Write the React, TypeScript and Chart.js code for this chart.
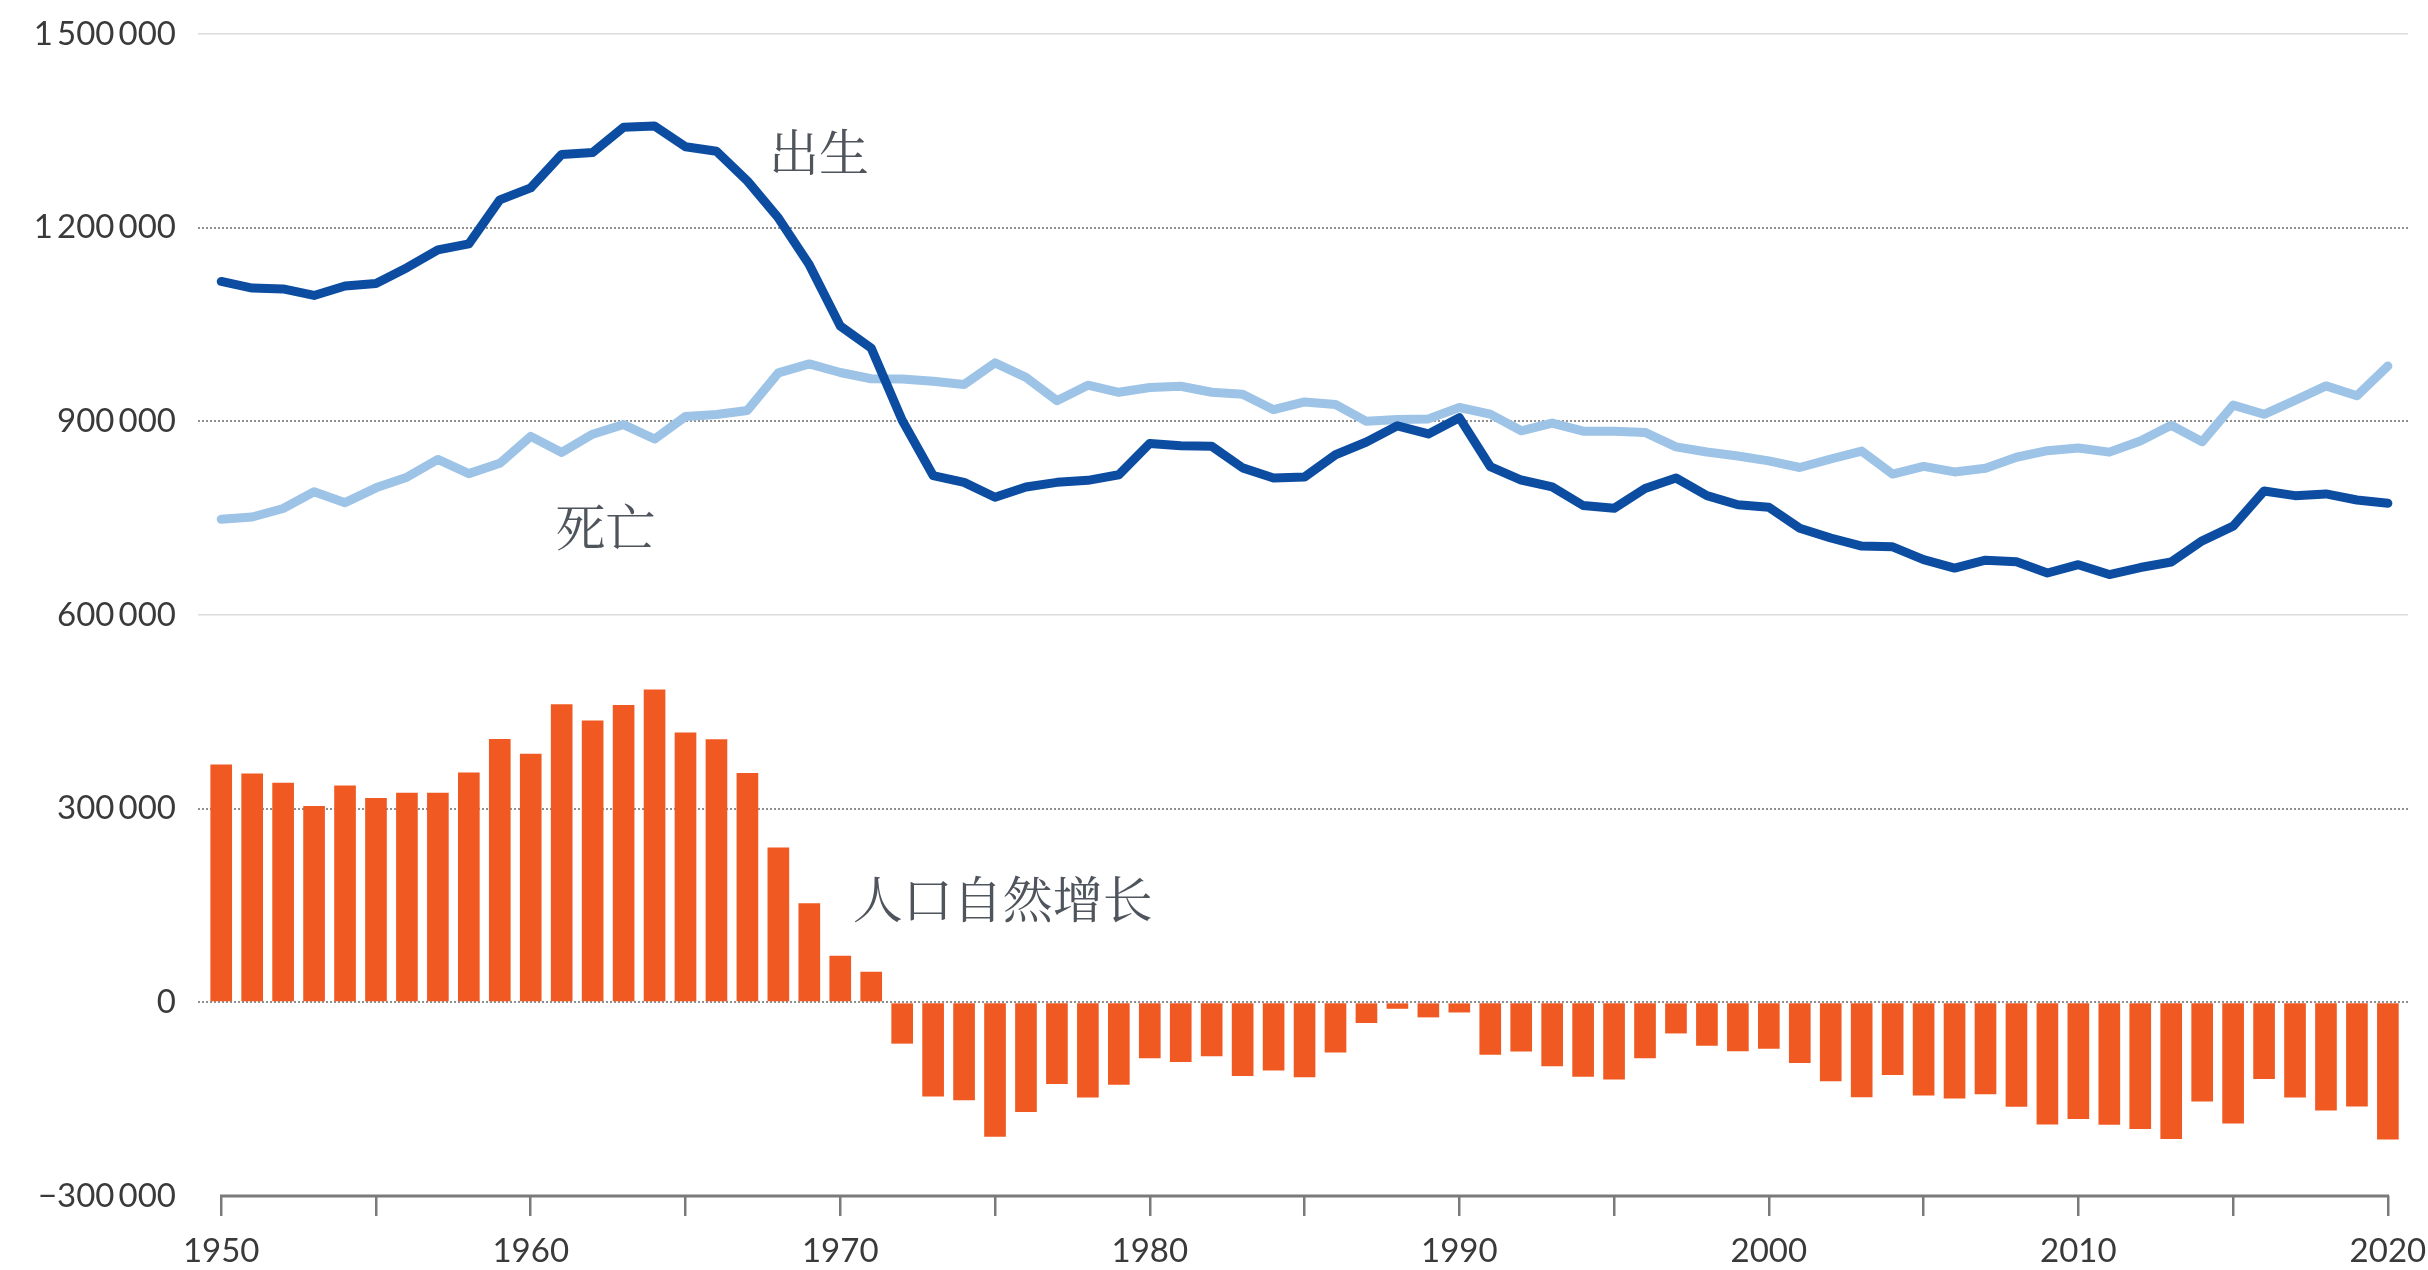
import React, { useEffect, useRef } from "react";
import { Chart, registerables } from "chart.js";

Chart.register(...registerables);

// ---------- data ----------
const years = [
  1950, 1951, 1952, 1953, 1954, 1955, 1956, 1957, 1958, 1959,
  1960, 1961, 1962, 1963, 1964, 1965, 1966, 1967, 1968, 1969,
  1970, 1971, 1972, 1973, 1974, 1975, 1976, 1977, 1978, 1979,
  1980, 1981, 1982, 1983, 1984, 1985, 1986, 1987, 1988, 1989,
  1990, 1991, 1992, 1993, 1994, 1995, 1996, 1997, 1998, 1999,
  2000, 2001, 2002, 2003, 2004, 2005, 2006, 2007, 2008, 2009,
  2010, 2011, 2012, 2013, 2014, 2015, 2016, 2017, 2018, 2019,
  2020,
];

// 出生 (births)
const births = [
  1116700, 1106400, 1105100, 1095000, 1109700, 1113400, 1138000, 1165500, 1175000, 1243000,
  1261600, 1313500, 1316500, 1355600, 1357300, 1325400, 1318300, 1272300, 1215000, 1142400,
  1047700, 1013400, 901700, 816000, 805500, 782300, 798300, 805500, 808600, 817200,
  865800, 862100, 861300, 827900, 812300, 813800, 848200, 868000, 893000, 880500,
  905700, 830000, 809100, 798400, 769600, 765200, 796000, 812200, 785000, 770700,
  767000, 734500, 719300, 706700, 705600, 685800, 672700, 684900, 682500, 665100,
  677900, 662700, 673500, 682100, 714900, 737600, 792100, 784900, 787500, 778100,
  773100,
];

// 死亡 (deaths)
const deaths = [
  748300, 751800, 765000, 791000, 774000, 797000, 813500, 841000, 819000, 835000,
  876700, 851800, 880000, 895000, 872600, 907500, 910600, 916900, 975000, 989000,
  975700, 966000, 965700, 962000, 957000, 990500, 968000, 932000, 956000, 945000,
  952400, 954400, 945000, 942000, 918000, 930000, 926000, 900000, 903000, 903800,
  921400, 911200, 885400, 897300, 884700, 884600, 882800, 860400, 852400, 846300,
  838800, 828500, 841700, 853900, 818300, 830200, 821600, 827200, 844400, 854500,
  858800, 852300, 869600, 893800, 868400, 925200, 910900, 932300, 954900, 939500,
  985600,
];

// 人口自然增长 (natural increase)
const naturalIncrease = [
  368400, 354600, 340100, 304000, 335700, 316400, 324500, 324500, 356000, 408000,
  384900, 461700, 436500, 460600, 484700, 417900, 407700, 355400, 240000, 153400,
  72000, 47400, -64000, -146000, -151500, -208200, -169700, -126500, -147400, -127800,
  -86600, -92300, -83700, -114100, -105700, -116200, -77800, -32000, -10000, -23300,
  -15700, -81200, -76300, -98900, -115100, -119400, -86800, -48200, -67400, -75600,
  -71800, -94000, -122400, -147200, -112700, -144400, -148900, -142300, -161900, -189400,
  -180900, -189600, -196100, -211700, -153500, -187600, -118800, -147400, -167400, -161400,
  -212500,
];

const yTickValues = [-300000, 0, 300000, 600000, 900000, 1200000, 1500000];
const xTickYears = [1950, 1955, 1960, 1965, 1970, 1975, 1980, 1985, 1990, 1995, 2000, 2005, 2010, 2015, 2020];
const xLabelYears = [1950, 1960, 1970, 1980, 1990, 2000, 2010, 2020];

const seriesNames = ["出生", "死亡", "人口自然增长"];
// text annotations anchored in data coordinates [year, value]
const annotationAnchors = [
  [1967.7, 1317000],
  [1960.8, 737000],
  [1970.4, 160000],
];

// ---------- helpers ----------
const fmt = (v: number) => {
  const s = Math.abs(v).toString().replace(/\B(?=(\d{3})+(?!\d))/g, "\u2009");
  return (v < 0 ? "\u2212" : "") + s;
};
const isLight = (v: number) => v === 1500000 || v === 600000;

const decorPlugin = {
  id: "decor",
  afterDraw(chart: any) {
    const { ctx, chartArea } = chart;
    const x = chart.scales.x;
    const y = chart.scales.y;
    ctx.save();
    // x axis baseline from 1950 to 2020
    ctx.strokeStyle = "#7a7a7a";
    ctx.lineWidth = 3;
    ctx.beginPath();
    ctx.moveTo(x.getPixelForValue(1950) - 1.25, chartArea.bottom);
    ctx.lineTo(x.getPixelForValue(2020) + 1.25, chartArea.bottom);
    ctx.stroke();
    // series name labels
    ctx.fillStyle = "#4f555c";
    ctx.font = '50px "Noto Serif CJK SC", "Noto Sans CJK SC"';
    ctx.textAlign = "left";
    ctx.textBaseline = "middle";
    seriesNames.forEach((name, i) => {
      const [ax, ay] = annotationAnchors[i];
      ctx.fillText(name, x.getPixelForValue(ax), y.getPixelForValue(ay));
    });
    ctx.restore();
  },
};

export default function App() {
  const ref = useRef<HTMLCanvasElement | null>(null);

  useEffect(() => {
    if (!ref.current) return;
    Chart.defaults.font.family = "Lato";
    const chart = new Chart(ref.current, {
      type: "bar",
      data: {
        datasets: [
          {
            type: "line",
            label: seriesNames[0],
            data: years.map((yr, i) => ({ x: yr, y: births[i] })),
            borderColor: "#0c4da2",
            borderWidth: 9,
            pointRadius: 0,
            tension: 0,
            borderJoinStyle: "round",
            borderCapStyle: "round",
            order: 1,
          } as any,
          {
            type: "line",
            label: seriesNames[1],
            data: years.map((yr, i) => ({ x: yr, y: deaths[i] })),
            borderColor: "#9dc3e6",
            borderWidth: 9,
            pointRadius: 0,
            tension: 0,
            borderJoinStyle: "round",
            borderCapStyle: "round",
            order: 2,
          } as any,
          {
            type: "bar",
            label: seriesNames[2],
            data: years.map((yr, i) => ({ x: yr, y: naturalIncrease[i] })),
            backgroundColor: "#f05a22",
            barPercentage: 0.7,
            categoryPercentage: 1,
            order: 3,
          } as any,
        ],
      },
      options: {
        animation: false,
        responsive: false,
        devicePixelRatio: 1,
        layout: { padding: { top: 34, right: 20, left: 0, bottom: 0 } },
        plugins: { legend: { display: false }, tooltip: { enabled: false } },
        scales: {
          x: {
            type: "linear",
            offset: false,
            min: 1949.25,
            max: 2020.65,
            afterBuildTicks: (s: any) => {
              s.ticks = xTickYears.map((v) => ({ value: v }));
            },
            afterFit: (s: any) => {
              s.height = 74;
              s.paddingLeft = 0;
              s.paddingRight = 0;
            },
            ticks: {
              autoSkip: false,
              maxRotation: 0,
              padding: 16,
              color: "#3a3a3a",
              font: { family: "Lato", size: 33 },
              callback: (v: any) => (xLabelYears.includes(Number(v)) ? String(v) : ""),
            },
            grid: {
              offset: false,
              drawOnChartArea: false,
              drawTicks: true,
              tickLength: 20,
              color: "#7a7a7a",
              lineWidth: 2.5,
            },
            border: { display: false },
          },
          y: {
            min: -300000,
            max: 1500000,
            afterBuildTicks: (s: any) => {
              s.ticks = yTickValues.map((v) => ({ value: v }));
            },
            afterFit: (s: any) => {
              s.width = 198;
              s.paddingTop = 0;
              s.paddingBottom = 0;
            },
            ticks: {
              padding: 22,
              color: "#3a3a3a",
              font: { family: "Lato", size: 33 },
              callback: (v: any) => fmt(Number(v)),
            },
            grid: {
              drawTicks: false,
              color: (c: any) => {
                const v = c.tick ? c.tick.value : 0;
                if (v === -300000) return "rgba(0,0,0,0)";
                return isLight(v) ? "#dcdcdc" : "#8f8f8f";
              },
              lineWidth: (c: any) => {
                const v = c.tick ? c.tick.value : 0;
                return isLight(v) ? 1.5 : 2;
              },
            },
            border: {
              display: false,
              dash: (c: any) => {
                const v = c.tick ? c.tick.value : 0;
                return isLight(v) ? [] : [2, 2];
              },
            },
          },
        },
      } as any,
      plugins: [decorPlugin],
    });
    return () => chart.destroy();
  }, []);

  return (
    <div style={{ position: "absolute", left: 0, top: 0, width: 2428, height: 1270, background: "#fff" }}>
      <canvas ref={ref} width={2428} height={1270} style={{ display: "block", width: 2428, height: 1270 }} />
    </div>
  );
}
